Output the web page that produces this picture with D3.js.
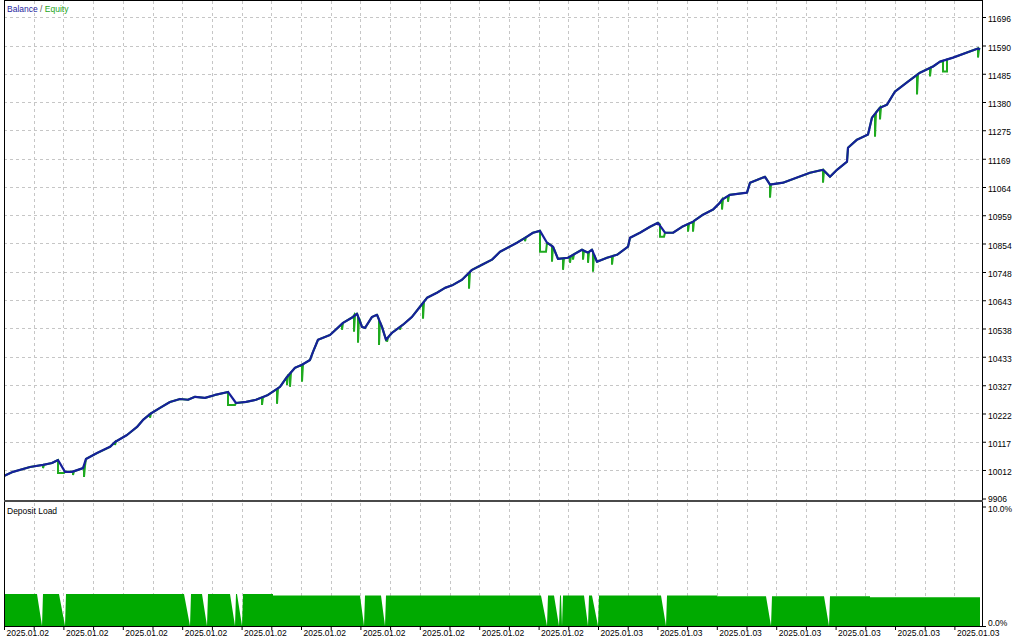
<!DOCTYPE html>
<html><head><meta charset="utf-8">
<script src="https://cdn.jsdelivr.net/npm/d3@7"></script>
<style>
html,body{margin:0;padding:0;background:#fff;}
svg{display:block;}
text{font-family:"Liberation Sans",Arial,sans-serif;font-size:8.5px;fill:#000;}
</style></head><body>
<svg id="c" width="1024" height="640"></svg>
<script>
// ---- data (trade index, value) ----
const balance = [[0,9990],[9,10005],[26,10023],[39,10031],[48,10038],[54,10049],[61,10005],[68,10005],[79,10019],[82,10053],[93,10075],[106,10098],[111,10116],[123,10142],[133,10172],[139,10198],[146,10220],[156,10243],[166,10265],[176,10276],[184,10273],[191,10284],[201,10280],[211,10291],[224,10302],[232,10261],[242,10265],[252,10273],[264,10291],[276,10321],[283,10358],[291,10392],[298,10403],[306,10421],[309,10451],[314,10496],[326,10514],[339,10559],[349,10581],[353,10593],[358,10544],[361,10540],[368,10581],[373,10589],[378,10544],[382,10496],[388,10522],[399,10552],[408,10581],[416,10619],[423,10652],[433,10671],[441,10689],[449,10700],[458,10719],[468,10756],[478,10775],[488,10794],[496,10823],[513,10857],[521,10875],[529,10894],[536,10901],[543,10857],[549,10842],[554,10797],[564,10801],[578,10831],[584,10820],[588,10831],[593,10786],[603,10801],[613,10812],[624,10842],[626,10875],[636,10894],[646,10916],[654,10931],[661,10894],[669,10894],[678,10916],[689,10935],[699,10961],[709,10980],[716,11006],[718,11017],[726,11035],[743,11043],[746,11080],[761,11102],[766,11073],[779,11080],[793,11099],[806,11117],[819,11128],[826,11102],[833,11128],[843,11158],[844,11210],[853,11240],[864,11259],[868,11322],[876,11359],[883,11370],[891,11419],[904,11456],[916,11489],[929,11512],[936,11530],[949,11545],[963,11564],[974,11579],[976,11575]];

// equity points that differ from balance (floating drawdowns)
const equityExtra = [[39,10019],[40,10031],[54,10001],[60,10001],[69,10006],[69,9993],[70,10007],[80,10025],[80,9986],[81,10027],[111,10105],[112,10118],[146,10206],[147,10222],[224,10254],[231,10254],[258,10282],[258,10254],[259,10283],[273,10313],[273,10258],[274,10316],[283,10328],[284,10362],[286,10371],[286,10321],[287,10375],[298,10340],[299,10405],[338,10555],[338,10533],[350,10587],[350,10526],[351,10588],[354,10583],[354,10485],[355,10578],[375,10571],[375,10477],[376,10562],[383,10500],[383,10489],[384,10504],[396,10544],[396,10533],[397,10547],[419,10633],[419,10574],[420,10638],[465,10745],[465,10686],[466,10749],[521,10862],[522,10877],[536,10823],[542,10823],[548,10845],[548,10786],[559,10799],[559,10756],[560,10799],[566,10805],[566,10782],[567,10807],[569,10812],[569,10794],[570,10814],[579,10829],[579,10794],[580,10827],[584,10782],[585,10823],[589,10822],[589,10749],[590,10813],[608,10806],[608,10775],[609,10808],[656,10925],[656,10879],[660,10879],[684,10926],[684,10898],[685,10928],[689,10898],[690,10938],[718,10980],[719,11019],[724,11030],[724,11009],[725,11033],[766,11024],[767,11074],[819,11080],[820,11125],[871,11336],[871,11251],[872,11341],[876,11315],[877,11361],[913,11481],[913,11408],[914,11484],[926,11507],[926,11475],[927,11509],[939,11533],[939,11493],[943,11493],[943,11538],[974,11545],[975,11578]];

// deposit load, percent
const depositLoad = [[0,2.68],[33,2.68],[38,0],[39,2.68],[55,2.68],[61,0],[62,2.68],[180,2.68],[186,0],[187,2.68],[198,2.68],[203,0],[204,2.68],[226,2.68],[231,0],[232,2.68],[233,2.68],[238,0],[239,2.68],[269,2.68],[269,2.55],[356,2.55],[360,0],[361,2.55],[377,2.55],[381,0],[382,2.55],[537,2.55],[543,0],[544,2.55],[550,2.55],[555,0],[556,2.55],[557,2.55],[558,0],[559,2.55],[580,2.55],[584,0],[585,2.55],[588,2.55],[594,0],[595,2.55],[657,2.55],[662,0],[663,2.55],[713,2.55],[713,2.5],[762,2.5],[767,0],[768,2.5],[820,2.5],[825,0],[826,2.5],[866,2.5],[866,2.4],[976,2.4]];

const balanceTicks = [9906,10012,10117,10222,10327,10433,10538,10643,10748,10854,10959,11064,11169,11275,11380,11485,11590,11696];
const loadTicks = [0,10];
const loadTickLabels = ["0.0%","10.0%"];
const dateLabels = ["2025.01.02","2025.01.02","2025.01.02","2025.01.02","2025.01.02","2025.01.02","2025.01.02","2025.01.02","2025.01.02","2025.01.02","2025.01.03","2025.01.03","2025.01.03","2025.01.03","2025.01.03","2025.01.03","2025.01.03"];
const seriesNames = ["Balance","Equity"];
const lowerTitle = "Deposit Load";

// ---- layout ----
const svg = d3.select("#c");
const left = 4, axisX = 982, mainBottom = 500, lowTop = 502, lowBottom = 626;
const x = d3.scaleLinear().domain([0,976]).range([4,980]);
const y = d3.scaleLinear().domain([9906,11696]).range([498.5,17]);
const yL = d3.scaleLinear().domain([0,10]).range([626,506.5]);
const gridStep = 29.7;
const gridIdx = d3.range(0,33).map(k => k*gridStep);

const defs = svg.append("defs");
defs.append("clipPath").attr("id","mainClip").append("rect").attr("x",5).attr("y",1).attr("width",axisX-5).attr("height",mainBottom-1);
defs.append("clipPath").attr("id","lowClip").append("rect").attr("x",5).attr("y",lowTop+1).attr("width",axisX-5).attr("height",lowBottom-lowTop-1);

// grid
const grid = svg.append("g").attr("stroke","#c6c6c6").attr("stroke-dasharray","3,3").attr("shape-rendering","crispEdges");
grid.selectAll("line.h").data(balanceTicks.slice(1)).join("line").attr("class","h")
  .attr("x1",left).attr("x2",axisX).attr("y1",d=>Math.round(y(d))+0.5).attr("y2",d=>Math.round(y(d))+0.5);
grid.selectAll("line.v").data(gridIdx.slice(1)).join("line").attr("class","v")
  .attr("x1",d=>Math.round(x(d))+0.5).attr("x2",d=>Math.round(x(d))+0.5).attr("y1",1).attr("y2",mainBottom);
grid.selectAll("line.v2").data(gridIdx.slice(1)).join("line").attr("class","v2")
  .attr("x1",d=>Math.round(x(d))+0.5).attr("x2",d=>Math.round(x(d))+0.5).attr("y1",lowTop+1).attr("y2",lowBottom);

// deposit load area
const area = d3.area().x(d=>x(d[0])).y0(yL(0)).y1(d=>yL(d[1]));
svg.append("path").attr("clip-path","url(#lowClip)").datum(depositLoad).attr("d",area).attr("fill","#00aa00");

// equity + balance
const equity = balance.concat(equityExtra).map((d,i)=>({i:d[0],v:d[1],o:i}))
  .sort((a,b)=> a.i-b.i || a.o-b.o);
const line = d3.line().x(d=>x(d[0])).y(d=>y(d[1]));
const main = svg.append("g").attr("clip-path","url(#mainClip)");
main.append("path").datum(equity.map(d=>[d.i,d.v])).attr("d",line)
  .attr("fill","none").attr("stroke","#1faa1f").attr("stroke-width",2).attr("stroke-linejoin","miter");
main.append("path").datum(balance).attr("d",line)
  .attr("fill","none").attr("stroke","#16209a").attr("stroke-width",2.2).attr("stroke-linejoin","round");

// frame
const frame = svg.append("g").attr("shape-rendering","crispEdges");
frame.append("line").attr("x1",left).attr("x2",axisX).attr("y1",0.5).attr("y2",0.5).attr("stroke","#000");
frame.append("line").attr("x1",left+0.5).attr("x2",left+0.5).attr("y1",0).attr("y2",lowBottom).attr("stroke","#000");
frame.append("line").attr("x1",axisX+0.5).attr("x2",axisX+0.5).attr("y1",0).attr("y2",lowBottom+1).attr("stroke","#000");
frame.append("rect").attr("x",left).attr("y",mainBottom).attr("width",axisX-left+1).attr("height",2).attr("fill","#4a4a4a");
frame.append("line").attr("x1",left).attr("x2",axisX+1).attr("y1",lowBottom+0.5).attr("y2",lowBottom+0.5).attr("stroke","#000");

// right axis (balance)
const gRA = svg.append("g").attr("transform",`translate(${axisX},0)`)
  .call(d3.axisRight(y).tickValues(balanceTicks).tickSize(4).tickFormat(d3.format("d")));
gRA.select(".domain").remove();
gRA.selectAll("text").attr("x",6).attr("y",(d,i)=> i===0 ? 0 : 2).attr("dy","0.32em");
// right axis (deposit load)
const gRL = svg.append("g").attr("transform",`translate(${axisX},0)`)
  .call(d3.axisRight(yL).tickValues(loadTicks).tickSize(4).tickFormat((d,i)=>loadTickLabels[i]));
gRL.select(".domain").remove();
gRL.selectAll("text").attr("x",6).attr("y",(d,i)=> i===0 ? -3 : 2).attr("dy","0.32em");
// bottom axis
const gBA = svg.append("g").attr("transform",`translate(0,${lowBottom})`)
  .call(d3.axisBottom(x).tickValues(gridIdx).tickSize(4).tickFormat((d,i)=> i%2===0 ? dateLabels[i/2] : ""));
gBA.select(".domain").remove();
gBA.selectAll("text").attr("text-anchor","start").attr("x",2).attr("y",4).attr("dy","0.71em");
svg.selectAll(".tick line").attr("stroke","#000");

// titles
const leg = svg.append("text").attr("x",7).attr("y",11.5);
leg.append("tspan").attr("fill","#1d1d9e").text(seriesNames[0]);
leg.append("tspan").attr("fill","#555").text(" / ");
leg.append("tspan").attr("fill","#1ea51e").text(seriesNames[1]);
svg.append("text").attr("x",7).attr("y",514).text(lowerTitle);
</script>
</body></html>
